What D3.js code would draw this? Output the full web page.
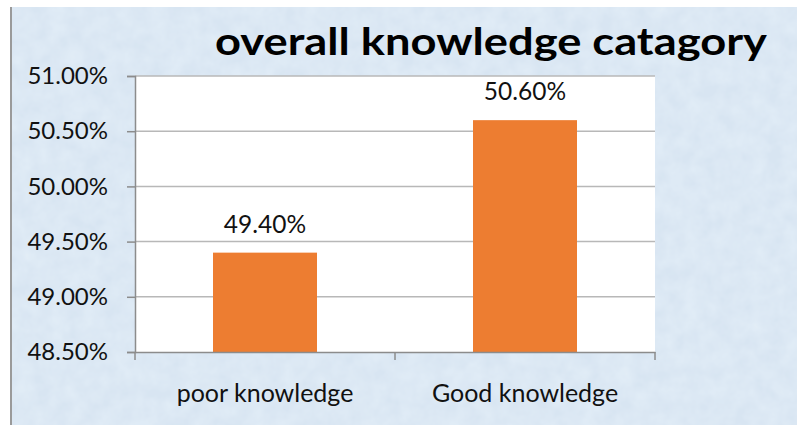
<!DOCTYPE html>
<html>
<head>
<meta charset="utf-8">
<script src="https://cdn.jsdelivr.net/npm/d3@7"></script>
<style>
  html, body { margin: 0; padding: 0; background: #fff; }
  svg { display: block; }
  text { font-family: Lato, "Open Sans", sans-serif; fill: #111; }
</style>
</head>
<body>
<div id="chart"></div>
<script>
// chart data
const categories = ['poor knowledge', 'Good knowledge'];
const values = [49.40, 50.60];
const yTicks = [48.5, 49.0, 49.5, 50.0, 50.5, 51.0];
const title = 'overall knowledge catagory';

const width = 797, height = 425;
const plot = { left: 135, right: 655, top: 76, bottom: 352 };

const svg = d3.select('#chart').append('svg')
  .attr('width', width)
  .attr('height', height);

// mottled light blue backdrop
const defs = svg.append('defs');
const filt = defs.append('filter').attr('id', 'paper')
  .attr('x', 0).attr('y', 0).attr('width', '100%').attr('height', '100%');
filt.append('feTurbulence')
  .attr('type', 'fractalNoise').attr('baseFrequency', 0.06)
  .attr('numOctaves', 3).attr('seed', 4).attr('result', 'noise');
filt.append('feColorMatrix').attr('in', 'noise').attr('type', 'matrix')
  .attr('values', '0 0 0 0 0.80  0 0 0 0 0.88  0 0 0 0 0.95  0.9 0 0 0 -0.2')
  .attr('result', 'tint');
filt.append('feComposite').attr('in', 'tint').attr('in2', 'SourceGraphic').attr('operator', 'over');

svg.append('rect')
  .attr('x', 11).attr('y', 7)
  .attr('width', width - 11).attr('height', height - 7)
  .attr('fill', '#d8e5f2')
  .attr('filter', 'url(#paper)');

// left border line
svg.append('line')
  .attr('x1', 11).attr('x2', 11).attr('y1', 7).attr('y2', height)
  .attr('stroke', '#9a9a9a').attr('stroke-width', 2);

const x = d3.scaleBand()
  .domain(categories)
  .range([plot.left, plot.right])
  .paddingInner(0.6)
  .paddingOuter(0.3);

const y = d3.scaleLinear()
  .domain([48.5, 51.0])
  .range([plot.bottom, plot.top]);

// plot area
svg.append('rect')
  .attr('x', plot.left).attr('y', plot.top)
  .attr('width', plot.right - plot.left)
  .attr('height', plot.bottom - plot.top)
  .attr('fill', '#fff');

// gridlines
svg.append('g')
  .selectAll('line')
  .data(yTicks.filter(t => t > 48.5))
  .enter().append('line')
  .attr('x1', plot.left).attr('x2', plot.right)
  .attr('y1', d => y(d)).attr('y2', d => y(d))
  .attr('stroke', '#b8b8b8').attr('stroke-width', 1.5);

// bars
svg.append('g')
  .selectAll('rect')
  .data(values)
  .enter().append('rect')
  .attr('x', (d, i) => x(categories[i]))
  .attr('y', d => y(d))
  .attr('width', x.bandwidth())
  .attr('height', d => plot.bottom - y(d))
  .attr('fill', '#ed7d31');

// value labels
svg.append('g')
  .selectAll('text')
  .data(values)
  .enter().append('text')
  .attr('x', (d, i) => x(categories[i]) + x.bandwidth() / 2)
  .attr('y', d => y(d) - 20)
  .attr('text-anchor', 'middle')
  .style('font-size', '24.5px')
  .text(d => d.toFixed(2) + '%');

// y axis
const yAxis = svg.append('g')
  .attr('transform', `translate(${plot.left},0)`)
  .call(d3.axisLeft(y).tickValues(yTicks).tickFormat(d => d.toFixed(2) + '%').tickSize(8).tickPadding(19));
yAxis.select('.domain').attr('stroke', '#8c8c8c').attr('stroke-width', 1.5);
yAxis.selectAll('.tick line').attr('stroke', '#8c8c8c').attr('stroke-width', 1.5);
yAxis.selectAll('.tick text')
  .style('font-size', '24px')
  .style('font-family', 'Lato, "Open Sans", sans-serif')
  .attr('fill', '#111');

// x axis
const xAxis = svg.append('g')
  .attr('transform', `translate(0,${plot.bottom})`)
  .call(d3.axisBottom(x).tickSize(0).tickPadding(32).tickSizeOuter(0));
xAxis.select('.domain').attr('stroke', '#8c8c8c').attr('stroke-width', 1.5);
xAxis.selectAll('.tick text')
  .style('font-size', '25px')
  .style('font-family', 'Lato, "Open Sans", sans-serif')
  .attr('fill', '#111');

// category divider ticks below the axis
const edges = [plot.left, (x(categories[0]) + x.bandwidth() + x(categories[1])) / 2, plot.right];
svg.append('g')
  .selectAll('line')
  .data(edges)
  .enter().append('line')
  .attr('x1', d => d).attr('x2', d => d)
  .attr('y1', plot.bottom).attr('y2', plot.bottom + 8)
  .attr('stroke', '#8c8c8c').attr('stroke-width', 1.5);

// title
svg.append('text')
  .attr('x', 491).attr('y', 55)
  .attr('text-anchor', 'middle')
  .attr('textLength', 552)
  .attr('lengthAdjust', 'spacingAndGlyphs')
  .style('font-size', '38px')
  .style('font-weight', 'bold')
  .style('fill', '#000')
  .text(title);
</script>
</body>
</html>
